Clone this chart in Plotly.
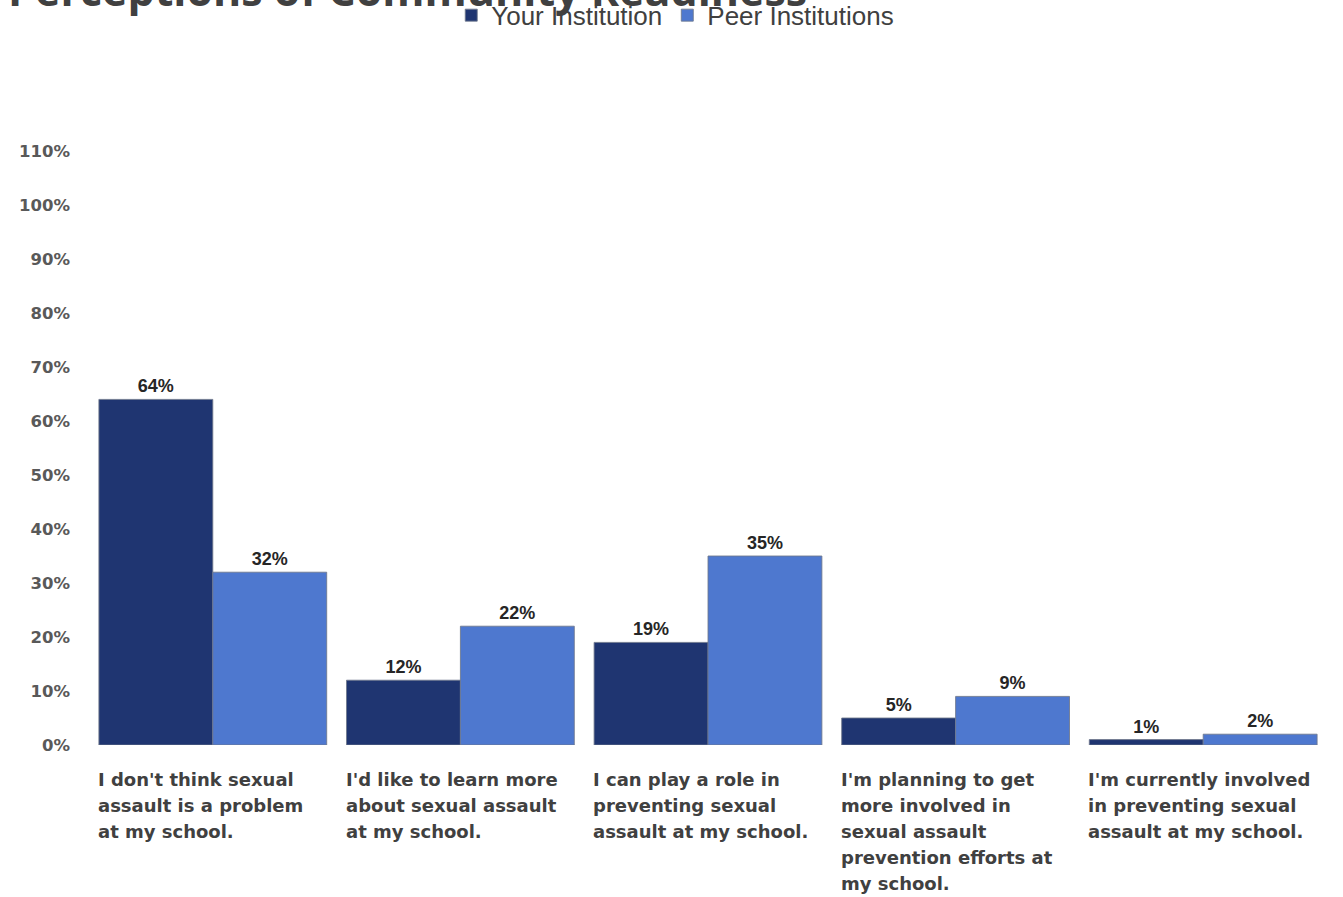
import plotly.graph_objects as go

# Survey results: share of respondents agreeing with each statement
statements = [
    ["I don't think sexual", "assault is a problem", "at my school."],
    ["I'd like to learn more", "about sexual assault", "at my school."],
    ["I can play a role in", "preventing sexual", "assault at my school."],
    ["I'm planning to get", "more involved in", "sexual assault", "prevention efforts at", "my school."],
    ["I'm currently involved", "in preventing sexual", "assault at my school."],
]
your_institution = [0.64, 0.12, 0.19, 0.05, 0.01]
peer_institutions = [0.32, 0.22, 0.35, 0.09, 0.02]
y_ticks = [i / 10 for i in range(0, 12)]

categories = [" ".join(lines) for lines in statements]

NAVY = "#1F3571"
BLUE = "#4E78CF"
LABEL_FONT = dict(family="Liberation Sans, Arial, sans-serif", size=18, color="#262626")

fig = go.Figure()
for name, values, color in [
    ("Your Institution", your_institution, NAVY),
    ("Peer Institutions", peer_institutions, BLUE),
]:
    fig.add_trace(go.Bar(
        name=name,
        x=categories,
        y=values,
        marker=dict(color=color, line=dict(color="rgba(110,120,140,0.85)", width=1)),
        texttemplate="<b>%{y:.0%}</b>",
        textposition="outside",
        textfont=LABEL_FONT,
        cliponaxis=False,
        hovertemplate="%{y:.0%}<extra>" + name + "</extra>",
    ))

# Category labels, left-aligned under each bar group, one annotation per line
annotations = []
for i, lines in enumerate(statements):
    for k, line in enumerate(lines):
        annotations.append(dict(
            x=i - 0.46, xref="x", xanchor="left", xshift=-3,
            y=0, yref="paper", yanchor="middle", yshift=-(34 + 26.2 * k),
            text="<b>" + line + "</b>",
            align="left", showarrow=False,
            font=dict(family="DejaVu Sans, Verdana, sans-serif", size=18, color="#404040"),
        ))

# Chart title, partly above the top edge of the page
annotations.append(dict(
    x=0, xref="paper", xshift=-83, xanchor="left",
    y=1, yref="paper", yanchor="bottom", yshift=130,
    text="<b>Perceptions of Community Readiness</b>",
    showarrow=False,
    font=dict(family="Open Sans, sans-serif", size=43, color="#404040"),
))

fig.update_layout(
    width=1343, height=897,
    margin=dict(l=89, r=16, t=151, b=152),
    paper_bgcolor="white", plot_bgcolor="white",
    barmode="group", bargap=0.08, bargroupgap=0,
    showlegend=True,
    legend=dict(
        orientation="h",
        xref="container", yref="container",
        x=0.336, xanchor="left", y=0.983, yanchor="middle",
        font=dict(family="Liberation Sans, Arial, sans-serif", size=26, color="#404040"),
        itemwidth=30, tracegroupgap=0,
        bgcolor="rgba(0,0,0,0)",
    ),
    xaxis=dict(showticklabels=False, showline=False, showgrid=False, zeroline=False),
    yaxis=dict(
        range=[0, 1.1],
        tickvals=y_ticks,
        ticktext=[f"<b>{round(v * 100)}%</b>" for v in y_ticks],
        tickfont=dict(family="DejaVu Sans, Verdana, sans-serif", size=16.5, color="#595959"),
        showgrid=False, zeroline=False, showline=False,
        ticklabelstandoff=18,
    ),
    annotations=annotations,
)

fig.write_html("out.html")
